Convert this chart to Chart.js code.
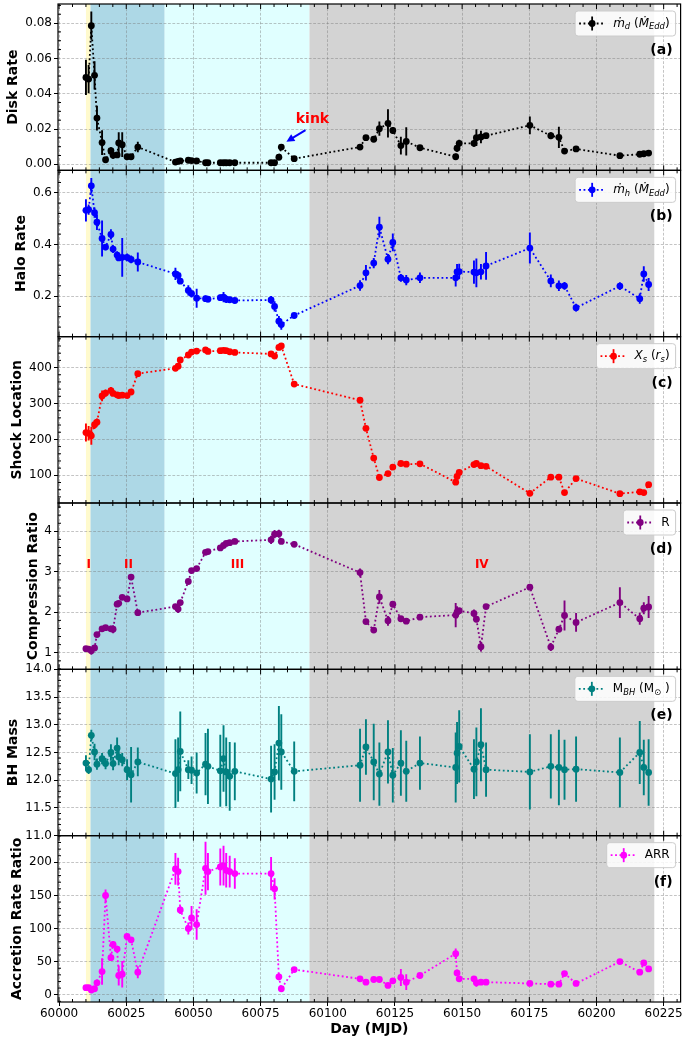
<!DOCTYPE html>
<html>
<head>
<meta charset="utf-8">
<script src="https://cdn.jsdelivr.net/npm/chart.js@4.4.0/dist/chart.umd.min.js"></script>
<style>html,body{margin:0;padding:0;background:#fff}</style>
</head>
<body>
<canvas id="c" width="684" height="1042"></canvas>
<script>
// observation days (MJD), shared by all panels
var days = [
  60010.0, 60011.0, 60012.0, 60013.2, 60014.1, 60016.0, 60017.3, 60019.3, 60020.1, 60021.6,
  60022.2, 60023.5, 60025.3, 60026.8, 60029.3, 60043.3, 60044.3, 60045.1, 60048.1, 60049.3,
  60051.2, 60054.5, 60055.4, 60060.0, 60061.2, 60062.2, 60063.5, 60065.4, 60078.9, 60080.2,
  60081.8, 60082.7, 60087.5, 60112.0, 60114.2, 60117.1, 60119.2, 60122.4, 60124.2, 60127.2,
  60129.2, 60134.3, 60147.6, 60148.1, 60148.9, 60154.4, 60155.3, 60157.0, 60158.9, 60175.2,
  60183.0, 60186.0, 60188.1, 60192.4, 60208.7, 60216.1, 60217.6, 60219.4];

var diskRate = [
  0.0492, 0.0483, 0.0785, 0.0504, 0.0262, 0.0123, 0.0026, 0.0077, 0.0051, 0.0053,
  0.0121, 0.0111, 0.0043, 0.0043, 0.0098, 0.0013, 0.0017, 0.0019, 0.0023, 0.0021,
  0.0019, 0.0009, 0.0009, 0.0009, 0.0009, 0.0009, 0.0009, 0.0009, 0.0009, 0.0009,
  0.0040, 0.0098, 0.0032, 0.0098, 0.0151, 0.0142, 0.0202, 0.0232, 0.0192, 0.0106,
  0.0130, 0.0094, 0.0043, 0.0091, 0.0119, 0.0119, 0.0151, 0.0155, 0.0162, 0.0221,
  0.0162, 0.0153, 0.0075, 0.0087, 0.0049, 0.0057, 0.0060, 0.0064];
var diskErr = [
  0.010, 0.008, 0.008, 0.008, 0.007, 0.007, 0.001, 0.002, 0.002, 0.001,
  0.006, 0.007, 0.001, 0.001, 0.003, 0.0008, 0.0008, 0.0008, 0.0008, 0.0008,
  0.0008, 0.0008, 0.0008, 0.0006, 0.0006, 0.0006, 0.0006, 0.0006, 0.0008, 0.0008,
  0.0015, 0.001, 0.001, 0.001, 0.0015, 0.0015, 0.004, 0.008, 0.002, 0.005,
  0.008, 0.0015, 0.001, 0.002, 0.002, 0.002, 0.0047, 0.0035, 0.0015, 0.005,
  0.002, 0.006, 0.001, 0.001, 0.001, 0.001, 0.001, 0.001];

var haloRate = [
  0.532, 0.535, 0.627, 0.523, 0.486, 0.423, 0.390, 0.439, 0.382, 0.359,
  0.348, 0.350, 0.350, 0.342, 0.332, 0.286, 0.280, 0.258, 0.222, 0.210,
  0.192, 0.190, 0.188, 0.194, 0.196, 0.188, 0.186, 0.183, 0.185, 0.160,
  0.103, 0.090, 0.125, 0.241, 0.290, 0.328, 0.467, 0.343, 0.408, 0.271,
  0.262, 0.271, 0.271, 0.294, 0.295, 0.293, 0.290, 0.294, 0.317, 0.386,
  0.259, 0.240, 0.240, 0.155, 0.239, 0.190, 0.286, 0.245];
var haloErr = [
  0.043, 0.02, 0.03, 0.02, 0.03, 0.07, 0.012, 0.02, 0.015, 0.015,
  0.012, 0.075, 0.015, 0.015, 0.037, 0.024, 0.015, 0.01, 0.02, 0.015,
  0.037, 0.012, 0.012, 0.012, 0.02, 0.015, 0.012, 0.01, 0.015, 0.02,
  0.02, 0.02, 0.008, 0.02, 0.03, 0.02, 0.04, 0.02, 0.034, 0.015,
  0.02, 0.02, 0.034, 0.03, 0.03, 0.045, 0.056, 0.03, 0.054, 0.06,
  0.025, 0.02, 0.015, 0.015, 0.015, 0.02, 0.03, 0.025];

var shockLoc = [
  219, 217, 210, 241, 248, 321, 329, 336, 328, 324,
  322, 323, 322, 332, 383, 398, 404, 421, 435, 443,
  446, 449, 445, 447, 448, 447, 444, 442, 438, 432,
  456, 460, 354, 309, 231, 148, 94, 105, 123, 133,
  131, 132, 81, 97, 108, 130, 133, 127, 125, 50,
  95, 95, 52, 91, 49, 54, 52, 74];
var shockErr = [
  25, 20, 25, 12, 10, 15, 10, 10, 6, 4,
  4, 4, 4, 5, 5, 4, 4, 4, 4, 3,
  3, 4, 3, 3, 3, 3, 3, 3, 4, 4,
  5, 5, 4, 5, 5, 4, 4, 4, 4, 4,
  3, 3, 4, 4, 4, 4, 4, 3, 3, 3,
  4, 4, 4, 4, 3, 3, 3, 4];

var compRatio = [
  1.10, 1.09, 1.05, 1.12, 1.45, 1.59, 1.62, 1.59, 1.58, 2.20,
  2.22, 2.37, 2.33, 2.87, 1.99, 2.14, 2.08, 2.24, 2.76, 3.03,
  3.08, 3.48, 3.50, 3.59, 3.65, 3.70, 3.72, 3.75, 3.79, 3.93,
  3.94, 3.75, 3.68, 2.98, 1.77, 1.56, 2.38, 1.79, 2.20, 1.84,
  1.78, 1.88, 1.93, 2.00, 2.04, 1.97, 1.83, 1.15, 2.14, 2.62,
  1.14, 1.58, 1.92, 1.75, 2.24, 1.84, 2.10, 2.13];
var compErr = [
  0.06, 0.06, 0.1, 0.06, 0.06, 0.07, 0.06, 0.08, 0.1, 0.06,
  0.05, 0.05, 0.05, 0.05, 0.05, 0.06, 0.1, 0.05, 0.06, 0.05,
  0.05, 0.04, 0.04, 0.06, 0.06, 0.06, 0.06, 0.06, 0.1, 0.1,
  0.1, 0.06, 0.07, 0.1, 0.06, 0.06, 0.17, 0.12, 0.08, 0.05,
  0.04, 0.06, 0.3, 0.15, 0.06, 0.1, 0.08, 0.12, 0.06, 0.06,
  0.1, 0.07, 0.37, 0.23, 0.38, 0.15, 0.15, 0.27];

var bhMass = [
  12.31, 12.19, 12.81, 12.51, 12.29, 12.39, 12.30, 12.50, 12.30, 12.58,
  12.42, 12.37, 12.19, 12.10, 12.33, 12.12, 12.19, 12.52, 12.19, 12.18,
  12.13, 12.29, 12.25, 12.17, 12.39, 12.15, 12.07, 12.16, 12.02, 12.15,
  12.67, 12.51, 12.16, 12.27, 12.60, 12.33, 12.11, 12.51, 12.09, 12.31,
  12.16, 12.31, 12.23, 12.49, 12.61, 12.20, 12.33, 12.64, 12.19, 12.15,
  12.25, 12.23, 12.19, 12.20, 12.14, 12.50, 12.23, 12.14];
var bhErr = [
  0.14, 0.08, 0.1, 0.15, 0.1, 0.1, 0.1, 0.15, 0.12, 0.19,
  0.15, 0.12, 0.19, 0.5, 0.26, 0.62, 0.58, 0.72, 0.17, 0.25,
  0.37, 0.56, 0.68, 0.65, 0.6, 0.62, 0.62, 0.52, 0.6, 0.5,
  0.67, 0.68, 0.54, 0.66, 0.5, 0.69, 0.57, 0.57, 0.49, 0.59,
  0.55, 0.48, 0.63, 0.56, 0.65, 0.54, 0.62, 0.66, 0.49, 0.68,
  0.58, 0.68, 0.54, 0.59, 0.63, 0.57, 0.5, 0.6];

var arrRatio = [
  10.6, 10.6, 7, 9, 18, 35, 150, 56, 76, 69,
  29, 31, 88, 83, 34, 190, 186, 128, 100, 116,
  106, 191, 186, 193, 195, 188, 186, 183, 183, 160,
  27, 9, 38, 24, 19, 23, 23, 14, 21, 26,
  19, 29, 62, 33, 24, 24, 18, 19, 19, 17,
  16, 16, 32, 17, 50, 34, 48, 39];
var arrErr = [
  2, 2, 2, 2, 5, 20, 9, 5, 5, 5,
  15, 20, 3, 3, 9, 24, 21, 6, 9, 18,
  23, 40, 28, 28, 30, 26, 24, 23, 25, 16,
  5, 2, 2, 2, 2, 2, 2, 2, 3, 13,
  12, 2, 8, 3, 2, 4, 6, 2, 2, 2,
  2, 4, 2, 2, 2, 2, 2, 2];

// state intervals (shaded)
var bandStart = [60010, 60011.7, 60039.3, 60093.2];
var bandEnd = [60011.7, 60039.3, 60093.2, 60221.5];
var bandColors = ['#fffacd', '#add8e6', '#e0ffff', '#d3d3d3'];

var stateLabels = ['I', 'II', 'III', 'IV'];
var stateDays = [60011.0, 60025.8, 60066.4, 60157.3];

var panels = [
  {id: 'ya', title: 'Disk Rate', values: diskRate, errs: diskErr, color: '#000000',
   min: -0.0034, max: 0.0908, step: 0.02, minor: 0.005, dec: 2, tpad: 5.4, tag: '(a)',
   legend: [['ṁ', 'i'], ['d', 'si'], [' (', 'r'], ['Ṁ', 'i'], ['Edd', 'si'], [')', 'r']]},
  {id: 'yb', title: 'Halo Rate', values: haloRate, errs: haloErr, color: '#0000ff',
   min: 0.043, max: 0.687, step: 0.2, minor: 0.04, dec: 1, tpad: 13.3, tag: '(b)',
   legend: [['ṁ', 'i'], ['h', 'si'], [' (', 'r'], ['Ṁ', 'i'], ['Edd', 'si'], [')', 'r']]},
  {id: 'yc', title: 'Shock Location', values: shockLoc, errs: shockErr, color: '#ff0000',
   min: 23, max: 486, step: 100, minor: 20, dec: 0, tpad: 9.1, tag: '(c)',
   legend: [['X', 'i'], ['s', 'si'], [' (', 'r'], ['r', 'i'], ['s', 'si'], [')', 'r']]},
  {id: 'yd', title: 'Compression Ratio', values: compRatio, errs: compErr, color: '#800080',
   min: 0.59, max: 4.70, step: 1, minor: 0.2, dec: 0, tpad: 25.4, tag: '(d)',
   legend: [['R', 'r']]},
  {id: 'ye', title: 'BH Mass', values: bhMass, errs: bhErr, color: '#008080',
   min: 11, max: 14, step: 0.5, minor: 0.1, dec: 1, tpad: 4.9, tag: '(e)',
   legend: [['M', 'r'], ['BH', 'si'], [' (M', 'r'], ['⊙', 'sr'], [' )', 'r']]},
  {id: 'yf', title: 'Accretion Rate Ratio', values: arrRatio, errs: arrErr, color: '#ff00ff',
   min: -11, max: 240.3, step: 50, minor: 10, dec: 0, tpad: 9.1, tag: '(f)',
   legend: [['ARR', 'r']]}
];

Chart.defaults.font.family = "'DejaVu Sans'";
Chart.defaults.color = '#000';

var gridColor = 'rgba(120,120,120,0.55)';
var dotted = [1.8, 2.6];

function drawRich(ctx, parts, x, y, size, measureOnly) {
  var cx = x;
  parts.forEach(function(p) {
    var sub = p[1][0] === 's';
    var it = p[1].slice(-1) === 'i';
    var fs = sub ? size * 0.7 : size;
    ctx.font = (it ? 'italic ' : '') + fs + "px 'DejaVu Sans'";
    if (!measureOnly) ctx.fillText(p[0], cx, y + (sub ? size * 0.3 : 0));
    cx += ctx.measureText(p[0]).width;
  });
  return cx - x;
}

// ticks on multiples of the step only
function stepTicks(step) {
  return function(s) {
    var out = [];
    var n0 = Math.ceil(s.min / step - 1e-6), n1 = Math.floor(s.max / step + 1e-6);
    for (var k = n0; k <= n1; k++) out.push({value: Math.round(k * step * 1e6) / 1e6});
    s.ticks = out;
  };
}

var scales = {
  x: {
    type: 'linear', position: 'bottom', min: 59999.6, max: 60231.3,
    afterBuildTicks: stepTicks(25),
    ticks: {autoSkip: false, maxRotation: 0, font: {size: 12}, color: '#000', padding: 1,
            callback: function(v) { return String(v); }},
    grid: {color: gridColor, lineWidth: 0.8, tickLength: 4, tickColor: '#000', tickWidth: 1, tickBorderDash: []},
    border: {display: false, dash: [2.8, 1.6]},
    title: {display: true, text: 'Day (MJD)', font: {size: 14, weight: 'bold'}, color: '#000', padding: {top: 0, bottom: 4}},
    afterFit: function(s) { s.height = 40; s.paddingLeft = 0; s.paddingRight = 0; }
  }
};

panels.forEach(function(p, i) {
  scales[p.id] = {
    type: 'linear', position: 'left', stack: 'panels', stackWeight: 1, weight: 6 - i,
    min: p.min, max: p.max, offset: false,
    afterBuildTicks: stepTicks(p.step),
    ticks: {autoSkip: false, font: {size: 12}, color: '#000', padding: 2,
            callback: function(v) { return v.toFixed(p.dec); }},
    grid: {color: gridColor, lineWidth: 0.8, tickLength: 4, tickColor: '#000', tickWidth: 1, tickBorderDash: []},
    border: {display: false, dash: [2.8, 1.6]},
    title: {display: true, text: p.title, font: {size: 14, weight: 'bold'}, color: '#000', padding: {top: p.tpad, bottom: 0}},
    afterFit: function(s) { s.width = 58; s.paddingTop = 0; s.paddingBottom = 0; }
  };
});

var datasets = panels.map(function(p) {
  return {
    label: p.title,
    data: days.map(function(d, i) { return {x: d, y: p.values[i]}; }),
    errs: p.errs,
    xAxisID: 'x', yAxisID: p.id,
    showLine: true,
    borderColor: p.color, backgroundColor: p.color,
    borderWidth: 1.8, borderDash: dotted,
    pointRadius: 3.4, pointHoverRadius: 3.4, pointBorderWidth: 0, pointBackgroundColor: p.color
  };
});

var deco = {
  id: 'deco',
  beforeDraw: function(chart) {
    var ctx = chart.ctx, ca = chart.chartArea, xs = chart.scales.x;
    ctx.save();
    ctx.fillStyle = '#fff';
    ctx.fillRect(0, 0, chart.width, chart.height);
    bandStart.forEach(function(b, i) {
      var x0 = xs.getPixelForValue(b), x1 = xs.getPixelForValue(bandEnd[i]);
      ctx.fillStyle = bandColors[i];
      ctx.fillRect(x0, ca.top, x1 - x0, ca.bottom - ca.top);
    });
    ctx.restore();
  },
  beforeDatasetsDraw: function(chart) {
    var ctx = chart.ctx, ca = chart.chartArea, xs = chart.scales.x;
    ctx.save();
    ctx.beginPath();
    ctx.rect(ca.left, ca.top, ca.right - ca.left, ca.bottom - ca.top);
    ctx.clip();
    chart.data.datasets.forEach(function(ds) {
      var ys = chart.scales[ds.yAxisID];
      ctx.strokeStyle = ds.borderColor;
      ctx.lineWidth = 1.9;
      ds.data.forEach(function(pt, i) {
        var e = ds.errs[i], px = xs.getPixelForValue(pt.x);
        ctx.beginPath();
        ctx.moveTo(px, ys.getPixelForValue(pt.y - e));
        ctx.lineTo(px, ys.getPixelForValue(pt.y + e));
        ctx.stroke();
      });
    });
    ctx.restore();
  },
  afterDatasetsDraw: function(chart) {
    var ctx = chart.ctx, ca = chart.chartArea, xs = chart.scales.x;
    ctx.save();
    ctx.strokeStyle = '#000';
    ctx.fillStyle = '#000';
    ctx.setLineDash([]);

    panels.forEach(function(p) {
      var s = chart.scales[p.id];
      // frame
      ctx.lineWidth = 1.2;
      ctx.strokeRect(ca.left, s.top, ca.right - ca.left, s.bottom - s.top);

      // x ticks, inward at top and bottom of every panel
      ctx.lineWidth = 1;
      ctx.beginPath();
      for (var v = Math.ceil(xs.min / 5) * 5; v <= xs.max; v += 5) {
        var px = xs.getPixelForValue(v);
        var len = (v % 25 === 0) ? 5 : 3;
        ctx.moveTo(px, s.top); ctx.lineTo(px, s.top + len);
        ctx.moveTo(px, s.bottom); ctx.lineTo(px, s.bottom - len);
      }
      ctx.stroke();

      // minor y ticks, inward on left spine
      ctx.beginPath();
      var n0 = Math.ceil(p.min / p.minor - 1e-6), n1 = Math.floor(p.max / p.minor + 1e-6);
      for (var k = n0; k <= n1; k++) {
        var val = k * p.minor;
        var r = val / p.step;
        if (Math.abs(r - Math.round(r)) < 1e-6) continue;
        var py = s.getPixelForValue(val);
        ctx.moveTo(ca.left, py); ctx.lineTo(ca.left + 3, py);
      }
      ctx.stroke();

      // legend box
      var fs = 12;
      var tw = drawRich(ctx, p.legend, 0, 0, fs, true);
      var bw = 4 + 26 + 8 + tw + 6, bh = 25;
      var bx = ca.right - 5 - bw, by = s.top + 7;
      ctx.beginPath();
      ctx.roundRect(bx, by, bw, bh, 3);
      ctx.fillStyle = 'rgba(255,255,255,0.85)';
      ctx.fill();
      ctx.strokeStyle = '#cccccc';
      ctx.lineWidth = 1;
      ctx.stroke();
      var cy = by + bh / 2;
      ctx.strokeStyle = p.color;
      ctx.fillStyle = p.color;
      ctx.lineWidth = 1.8;
      ctx.setLineDash(dotted);
      ctx.beginPath(); ctx.moveTo(bx + 4, cy); ctx.lineTo(bx + 30, cy); ctx.stroke();
      ctx.setLineDash([]);
      ctx.beginPath(); ctx.moveTo(bx + 17, cy - 7); ctx.lineTo(bx + 17, cy + 7); ctx.stroke();
      ctx.beginPath(); ctx.arc(bx + 17, cy, 3.4, 0, Math.PI * 2); ctx.fill();
      ctx.fillStyle = '#000';
      ctx.textAlign = 'left';
      ctx.textBaseline = 'middle';
      drawRich(ctx, p.legend, bx + 38, cy, fs, false);

      // panel tag
      ctx.font = "bold 14px 'DejaVu Sans'";
      ctx.textAlign = 'right';
      ctx.fillText(p.tag, ca.right - 8, s.top + 46.5);
      ctx.strokeStyle = '#000';
    });

    // state labels in panel (d)
    var yd = chart.scales.yd;
    ctx.fillStyle = '#ff0000';
    ctx.font = "bold 12px 'DejaVu Sans'";
    ctx.textAlign = 'center';
    ctx.textBaseline = 'middle';
    stateLabels.forEach(function(t, i) {
      ctx.fillText(t, xs.getPixelForValue(stateDays[i]), yd.getPixelForValue(3.18));
    });

    // kink annotation in panel (a)
    var ya = chart.scales.ya;
    ctx.font = "bold 14px 'DejaVu Sans'";
    ctx.fillText('kink', xs.getPixelForValue(60094.3), ya.getPixelForValue(0.0257));
    var tx = xs.getPixelForValue(60091.7), ty = ya.getPixelForValue(0.0194);
    var hx = xs.getPixelForValue(60084.6), hy = ya.getPixelForValue(0.0128);
    var ang = Math.atan2(hy - ty, hx - tx), hl = 8;
    ctx.strokeStyle = '#0000ff';
    ctx.fillStyle = '#0000ff';
    ctx.lineWidth = 2;
    ctx.beginPath();
    ctx.moveTo(tx, ty);
    ctx.lineTo(hx - hl * 0.8 * Math.cos(ang), hy - hl * 0.8 * Math.sin(ang));
    ctx.stroke();
    ctx.beginPath();
    ctx.moveTo(hx, hy);
    ctx.lineTo(hx - hl * Math.cos(ang) + 4 * Math.sin(ang), hy - hl * Math.sin(ang) - 4 * Math.cos(ang));
    ctx.lineTo(hx - hl * Math.cos(ang) - 4 * Math.sin(ang), hy - hl * Math.sin(ang) + 4 * Math.cos(ang));
    ctx.closePath();
    ctx.fill();
    ctx.restore();
  }
};

new Chart(document.getElementById('c'), {
  type: 'scatter',
  data: {datasets: datasets},
  options: {
    responsive: false,
    animation: false,
    layout: {padding: {top: 4, right: 2, left: 0, bottom: 0}},
    plugins: {legend: {display: false}, tooltip: {enabled: false}},
    scales: scales
  },
  plugins: [deco]
});
</script>
</body>
</html>
